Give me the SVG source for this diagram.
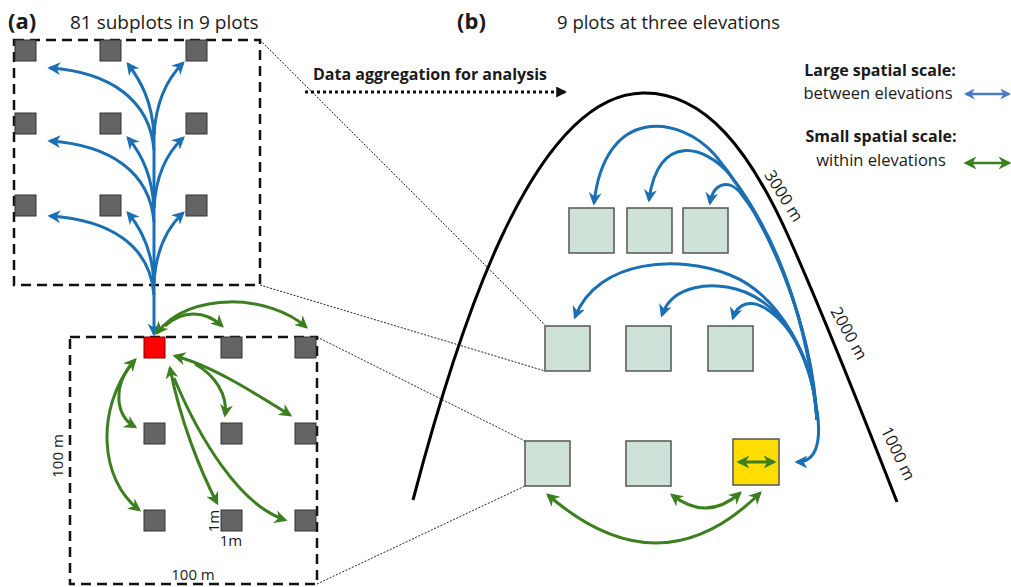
<svg xmlns="http://www.w3.org/2000/svg" width="1011" height="587" viewBox="0 0 1011 587">
<defs>
<style>
.t{font-family:"Open Sans","Liberation Sans",sans-serif;fill:#1a1a1a}
.b{font-weight:bold}
.sub{fill:#646464;stroke:#333;stroke-width:1}
.plot{fill:#cfe2d7;stroke:#555;stroke-width:1.5}
.dash{fill:none;stroke:#111;stroke-width:2.5;stroke-dasharray:10 6}
.dot{fill:none;stroke:#222;stroke-width:1;stroke-dasharray:2 1.5}
.bl{fill:none;stroke:#1b6fb3;stroke-width:3}
.gr{fill:none;stroke:#3b7f1f;stroke-width:3}
</style>
<marker id="ab" viewBox="0 0 10 10" refX="8" refY="5" markerWidth="13" markerHeight="13" markerUnits="userSpaceOnUse" orient="auto-start-reverse"><path d="M0,0 L10,5 L0,10 L3,5 Z" fill="#1b6fb3"/></marker>
<marker id="ag" viewBox="0 0 10 10" refX="8" refY="5" markerWidth="13" markerHeight="13" markerUnits="userSpaceOnUse" orient="auto-start-reverse"><path d="M0,0 L10,5 L0,10 L3,5 Z" fill="#3b7f1f"/></marker>
<marker id="ak" viewBox="0 0 10 10" refX="8" refY="5" markerWidth="11" markerHeight="11" markerUnits="userSpaceOnUse" orient="auto"><path d="M0,0 L10,5 L0,10 Z" fill="#111"/></marker>
<marker id="alb" viewBox="0 0 10 10" refX="8" refY="5" markerWidth="11" markerHeight="11" markerUnits="userSpaceOnUse" orient="auto-start-reverse"><path d="M0,0 L10,5 L0,10 L3,5 Z" fill="#4a78c4"/></marker>
</defs>

<!-- titles -->
<text class="t b" x="8" y="29" font-size="22">(a)</text>
<text class="t" x="70" y="29" font-size="19">81 subplots in 9 plots</text>
<text class="t b" x="457" y="29" font-size="22">(b)</text>
<text class="t" x="557" y="29" font-size="18.5">9 plots at three elevations</text>

<!-- dotted zoom lines -->
<g id="zoom-lines">
<path class="dot" d="M260,40 L545,325"/>
<path class="dot" d="M260,285 L545,371"/>
<path class="dot" d="M317,337 L525,441"/>
<path class="dot" d="M317,584 L525,486"/>
</g>

<!-- panel a top box -->
<g id="plot-box">
<rect class="dash" x="14" y="40" width="246" height="245"/>
<rect class="sub" x="15" y="40" width="21" height="21"/>
<rect class="sub" x="100" y="40" width="21" height="21"/>
<rect class="sub" x="186" y="40" width="21" height="21"/>
<rect class="sub" x="15" y="113" width="21" height="21"/>
<rect class="sub" x="100" y="113" width="21" height="21"/>
<rect class="sub" x="186" y="113" width="21" height="21"/>
<rect class="sub" x="15" y="195" width="21" height="21"/>
<rect class="sub" x="100" y="195" width="21" height="21"/>
<rect class="sub" x="186" y="195" width="21" height="21"/>
</g>

<!-- panel a bottom box -->
<g id="subplot-box">
<rect class="dash" x="70" y="337" width="247" height="247"/>
<rect x="144" y="337" width="21" height="21" fill="#f00" stroke="#7a0000" stroke-width="1"/>
<rect class="sub" x="221" y="337" width="21" height="21"/>
<rect class="sub" x="295" y="337" width="21" height="21"/>
<rect class="sub" x="144" y="423" width="21" height="21"/>
<rect class="sub" x="221" y="423" width="21" height="21"/>
<rect class="sub" x="295" y="423" width="21" height="21"/>
<rect class="sub" x="144" y="510" width="21" height="21"/>
<rect class="sub" x="221" y="510" width="21" height="21"/>
<rect class="sub" x="295" y="510" width="21" height="21"/>
<text class="t" x="0" y="0" font-size="15" text-anchor="middle" transform="translate(63,456) rotate(-90)">100 m</text>
<text class="t" x="193" y="580" font-size="15" text-anchor="middle">100 m</text>
<text class="t" x="0" y="0" font-size="15" text-anchor="middle" transform="translate(219,521) rotate(-90)">1m</text>
<text class="t" x="231" y="546" font-size="15" text-anchor="middle">1m</text>
</g>

<!-- mountain -->
<g id="mountain">
<path d="M413,500 C 455,340 530,95 643,93 C 705,92 750,150 790,240 C 830,330 865,420 897,502" fill="none" stroke="#000" stroke-width="3"/>
<text class="t" x="0" y="0" font-size="16.5" text-anchor="middle" transform="translate(779,199) rotate(58)">3000 m</text>
<text class="t" x="0" y="0" font-size="16.5" text-anchor="middle" transform="translate(844,336) rotate(61)">2000 m</text>
<text class="t" x="0" y="0" font-size="16.5" text-anchor="middle" transform="translate(893,456) rotate(64)">1000 m</text>
</g>

<!-- panel b plots -->
<g id="plots">
<rect class="plot" x="569" y="208" width="45" height="45"/>
<rect class="plot" x="627" y="208" width="45" height="45"/>
<rect class="plot" x="683" y="208" width="45" height="45"/>
<rect class="plot" x="545" y="326" width="45" height="45"/>
<rect class="plot" x="626" y="326" width="45" height="45"/>
<rect class="plot" x="708" y="326" width="45" height="45"/>
<rect class="plot" x="525" y="441" width="45" height="45"/>
<rect class="plot" x="626" y="441" width="45" height="45"/>
<rect x="733" y="439" width="46" height="46" fill="#ffdd00" stroke="#555" stroke-width="1.5"/>
</g>

<!-- legend -->
<g id="legend">
<text class="t b" x="880" y="76" font-size="16" text-anchor="middle">Large spatial scale:</text>
<text class="t" x="878" y="99" font-size="16.5" text-anchor="middle">between elevations</text>
<text class="t b" x="881" y="142" font-size="16" text-anchor="middle">Small spatial scale:</text>
<text class="t" x="881" y="166" font-size="16.5" text-anchor="middle">within elevations</text>
</g>

<g id="connectors">
<!-- aggregation -->
<text class="t b" x="313" y="80" font-size="16">Data aggregation for analysis</text>
<path d="M305,92 L565,92" fill="none" stroke="#111" stroke-width="3" stroke-dasharray="3 3" marker-end="url(#ak)"/>
<!-- legend arrows -->
<path d="M966,94 L1009,94" fill="none" stroke="#4a78c4" stroke-width="2.5" marker-start="url(#alb)" marker-end="url(#alb)"/>
<path d="M966,163 L1009,163" fill="none" stroke="#3b7f1f" stroke-width="2.5" marker-start="url(#ag)" marker-end="url(#ag)"/>

<!-- panel a blue tree -->
<path class="bl" d="M154,130 L154,334" marker-end="url(#ab)"/>
<path class="bl" d="M154,150 C 150,100 110,72 50,68" marker-end="url(#ab)"/>
<path class="bl" d="M154,135 C 152,100 140,80 128,64" marker-end="url(#ab)"/>
<path class="bl" d="M154,135 C 156,100 168,78 183,63" marker-end="url(#ab)"/>
<path class="bl" d="M154,222 C 150,172 110,145 50,141" marker-end="url(#ab)"/>
<path class="bl" d="M154,208 C 152,172 140,152 128,138" marker-end="url(#ab)"/>
<path class="bl" d="M154,208 C 156,172 168,152 183,138" marker-end="url(#ab)"/>
<path class="bl" d="M154,295 C 150,245 110,220 50,216" marker-end="url(#ab)"/>
<path class="bl" d="M154,283 C 152,247 140,227 128,213" marker-end="url(#ab)"/>
<path class="bl" d="M154,283 C 156,247 168,227 183,213" marker-end="url(#ab)"/>

<!-- panel a green -->
<path class="gr" d="M157,333 C 190,290 270,295 306,327" marker-start="url(#ag)" marker-end="url(#ag)"/>
<path class="gr" d="M165,326 C 182,310 205,310 222,326" marker-end="url(#ag)"/>
<path class="gr" d="M135,360 C 112,385 115,415 135,427" marker-start="url(#ag)" marker-end="url(#ag)"/>
<path class="gr" d="M133,362 C 95,410 100,480 139,510" marker-end="url(#ag)"/>
<path class="gr" d="M175,356 C 210,365 250,390 290,415" marker-start="url(#ag)" marker-end="url(#ag)"/>
<path class="gr" d="M195,364 C 215,375 228,395 225,415" marker-end="url(#ag)"/>
<path class="gr" d="M170,368 C 180,420 200,470 217,503" marker-start="url(#ag)" marker-end="url(#ag)"/>
<path class="gr" d="M174,378 C 200,440 240,505 285,520" marker-end="url(#ag)"/>

<!-- panel b blue -->
<path class="bl" d="M817,410 C 822,445 815,462 797,462" marker-end="url(#ab)"/>
<path class="bl" d="M817,420 C 812,320 765,215 715,155 C 680,115 605,105 594,203" marker-end="url(#ab)"/>
<path class="bl" d="M817,420 C 810,322 772,228 730,175 C 705,145 658,132 649,200" marker-end="url(#ab)"/>
<path class="bl" d="M817,420 C 808,325 778,240 742,195 C 732,180 714,180 710,203" marker-end="url(#ab)"/>
<path class="bl" d="M817,420 C 815,360 780,295 730,275 C 680,255 598,258 575,317" marker-end="url(#ab)"/>
<path class="bl" d="M817,420 C 815,370 790,310 745,292 C 712,280 672,285 662,315" marker-end="url(#ab)"/>
<path class="bl" d="M817,420 C 815,380 800,330 765,308 C 752,300 738,302 733,318" marker-end="url(#ab)"/>

<!-- panel b green -->
<path class="gr" d="M739,462 L774,462" marker-start="url(#ag)" marker-end="url(#ag)"/>
<path class="gr" d="M672,495 Q 707,522 740,493" marker-start="url(#ag)" marker-end="url(#ag)"/>
<path class="gr" d="M548,495 Q 660,592 760,493" marker-start="url(#ag)" marker-end="url(#ag)"/>
</g>
</svg>
